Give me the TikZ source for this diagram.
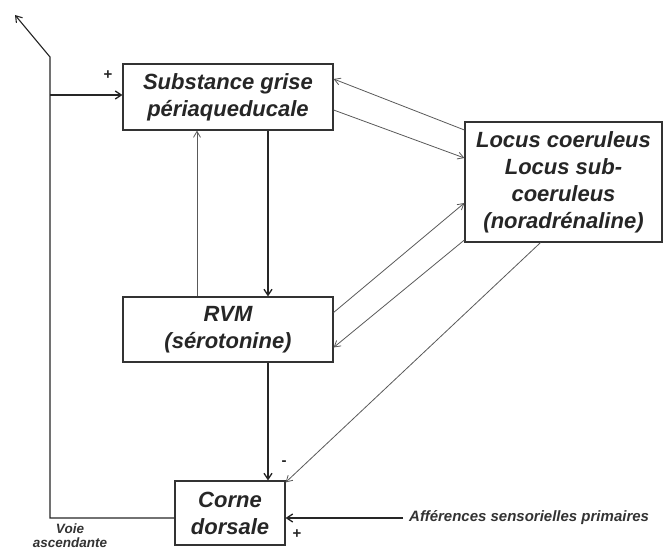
\documentclass[tikz,border=0pt]{standalone}
\usepackage{fontspec}
\setmainfont{Liberation Sans}
\usetikzlibrary{arrows.meta}
\begin{document}
\begin{tikzpicture}[x=1pt,y=-1pt,
  box/.style={draw=black!80, line width=1.2pt, fill=white, align=center, inner sep=0pt,
    font=\fontsize{22}{27}\selectfont\bfseries\itshape, text=black!85},
  strong/.style={draw=black!85, line width=1.3pt, -{Straight Barb[length=6pt,width=8pt]}},
  thin/.style={draw=black!65, line width=0.8pt, -{Straight Barb[length=6pt,width=7pt]}},
  lbl/.style={font=\fontsize{15}{15}\selectfont\bfseries, text=black!85, inner sep=0pt},
  small/.style={font=\fontsize{15}{15}\selectfont\bfseries\itshape, text=black!80, inner sep=0pt, align=center},
  smallv/.style={font=\fontsize{13.5}{14}\selectfont\bfseries\itshape, text=black!80, inner sep=0pt, align=center}]
\useasboundingbox (0,0) rectangle (671,553);
\node[box, minimum width=210pt, minimum height=66pt] (PAG) at (228,97) {Substance grise\\périaqueducale};
\node[box, minimum width=197pt, minimum height=120pt] (LC) at (563.5,182) {Locus coeruleus\\Locus sub-\\coeruleus\\(noradrénaline)};
\node[box, minimum width=210pt, minimum height=65pt] (RVM) at (228,329.5) {RVM\\(sérotonine)};
\node[box, minimum width=110pt, minimum height=64pt] (CD) at (230,513) {Corne\\dorsale};
\node[small, anchor=west] (aff) at (409,518) {Afférences sensorielles primaires};
\node[smallv] (voie) at (70,536) {Voie\\ascendante};
\node[lbl] (p1) at (108,75) {+};
\node[lbl] (m1) at (284,463) {-};
\node[lbl] (p2) at (297,534) {+};
\coordinate (bend) at (50,57);
\coordinate (tip) at (15,15);
\coordinate (branch) at (50,95);
% vertical connections
\draw[strong] ([xshift=40pt]PAG.south) -- ([xshift=40pt]RVM.north);
\draw[thin] ([xshift=-31pt]RVM.north) -- ([xshift=-31pt]PAG.south);
\draw[strong] ([xshift=40pt]RVM.south) -- ([xshift=38pt]CD.north);
% PAG <-> LC
\draw[thin] ([yshift=-13pt]PAG.east) -- ([yshift=24pt]LC.west);
\draw[thin] ([yshift=52pt]LC.west) -- ([yshift=18pt]PAG.east);
% RVM <-> LC
\draw[thin] ([yshift=17pt]RVM.east) -- ([yshift=-21pt]LC.west);
\draw[thin] ([yshift=-58pt]LC.west) -- ([yshift=-18pt]RVM.east);
% LC -> corne
\draw[thin] ([xshift=-23pt]LC.south) -- ([yshift=-2pt]CD.north east);
% afferences
\draw[strong] (aff.west) ++(-6pt,0) -- ([yshift=-5pt]CD.east);
% ascending path
\draw[strong, line width=1.1pt] ([yshift=-5pt]CD.west) -| (bend) -- (tip);
\draw[strong] (branch) -- (branch -| PAG.west);
\end{tikzpicture}
\end{document}
